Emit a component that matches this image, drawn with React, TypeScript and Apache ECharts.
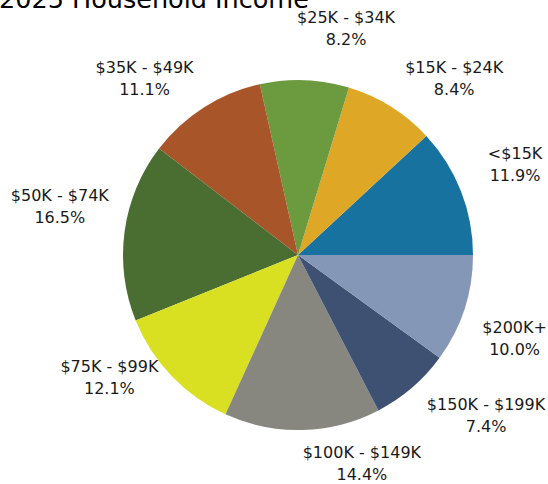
import React, { useEffect, useRef } from "react";
import * as echarts from "echarts";

const categories = [
  "<$15K",
  "$15K - $24K",
  "$25K - $34K",
  "$35K - $49K",
  "$50K - $74K",
  "$75K - $99K",
  "$100K - $149K",
  "$150K - $199K",
  "$200K+",
];
const shares = [11.9, 8.4, 8.2, 11.1, 16.5, 12.1, 14.4, 7.4, 10.0];
const colors = [
  "#17729F",
  "#DEA826",
  "#6C9A3F",
  "#A9552A",
  "#4A6E31",
  "#D9E021",
  "#878780",
  "#3E5173",
  "#8497B6",
];
const titleText = "2025 Household Income";

export default function App() {
  const ref = useRef<HTMLDivElement>(null);
  useEffect(() => {
    document.body.style.margin = "0";
    document.body.style.overflow = "hidden";
    if (!ref.current) return;
    const chart = echarts.init(ref.current, undefined, { renderer: "svg" });
    const cx = 298;
    const cy = 255;
    // label placement: angular nudge (deg) from slice mid-angle, and distance from centre
    const labelNudge = [1.1, -9.4, -9.8, 8.4, -3.7, -10.7, 15.6, 8.9, -3];
    const labelDist = [235, 236, 232, 234, 243, 225, 218, 247, 232];
    const total = shares.reduce((a, b) => a + b, 0);
    const mids: number[] = [];
    let acc = 0;
    shares.forEach((v) => {
      mids.push(((acc + v / 2) / total) * 360);
      acc += v;
    });
    chart.setOption({
      animation: false,
      graphic: [
        {
          type: "text",
          x: -1,
          y: 12,
          style: {
            text: titleText,
            fontFamily: "DejaVu Sans",
            fontSize: 25.5,
            fill: "#000",
            verticalAlign: "bottom",
            align: "left",
          },
        },
      ],
      series: [
        {
          type: "pie",
          center: [cx, cy],
          radius: 175,
          startAngle: 0,
          clockwise: false,
          avoidLabelOverlap: false,
          data: categories.map((c, i) => ({
            name: c,
            value: shares[i],
            itemStyle: { color: colors[i] },
          })),
          itemStyle: { borderWidth: 0 },
          emphasis: { disabled: true },
          labelLine: { show: false },
          label: {
            show: true,
            position: "outside",
            formatter: (p: any) => `${p.name}\n${p.value.toFixed(1)}%`,
            fontFamily: "DejaVu Sans",
            fontSize: 16,
            lineHeight: 22,
            color: "#1a1a1a",
            align: "center",
          },
          labelLayout: (params: any) => {
            const i = params.dataIndex;
            const a = ((mids[i] + labelNudge[i]) * Math.PI) / 180;
            return {
              x: cx + labelDist[i] * Math.cos(a),
              y: cy - labelDist[i] * Math.sin(a),
              align: "center",
              verticalAlign: "middle",
            };
          },
        },
      ],
    });
    return () => chart.dispose();
  }, []);
  return <div ref={ref} style={{ width: 548, height: 484 }} />;
}
